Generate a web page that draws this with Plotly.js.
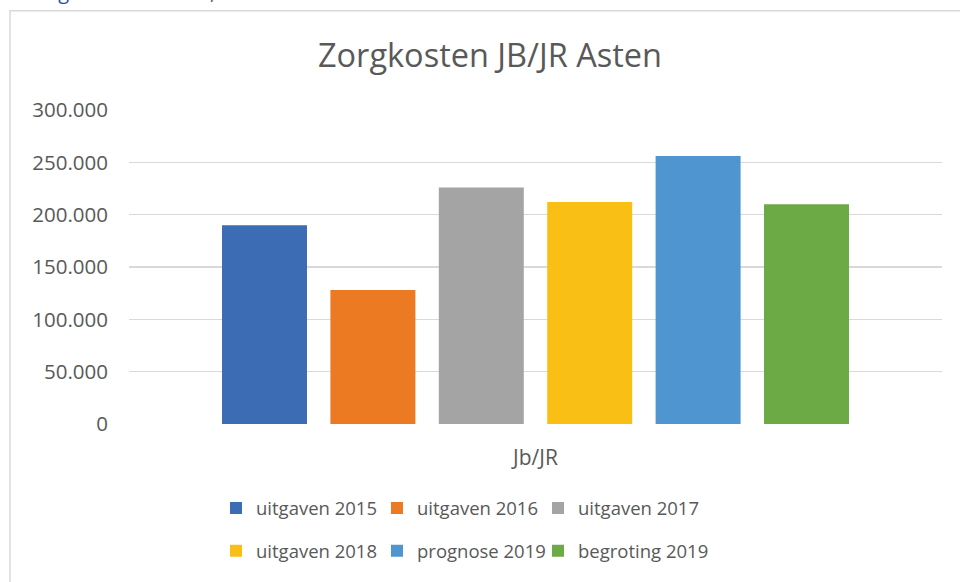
<!DOCTYPE html>
<html>
<head>
<meta charset="utf-8">
<script src="https://cdn.plot.ly/plotly-3.0.1.min.js"></script>
<style>html,body{margin:0;padding:0;background:#fff;}#chart{width:960px;height:582px;}</style>
</head>
<body>
<div id="chart"></div>
<script>
const categories = ['Jb/JR'];
const seriesNames = ['uitgaven 2015', 'uitgaven 2016', 'uitgaven 2017', 'uitgaven 2018', 'prognose 2019', 'begroting 2019'];
const seriesValues = [190000, 128000, 226000, 212000, 256000, 210000];
const seriesColors = ['#3C6CB4', '#EC7A22', '#A3A4A3', '#FABF14', '#4F95D0', '#6BAA45'];
const yTickValues = [0, 50000, 100000, 150000, 200000, 250000, 300000];

const W = 960, H = 582;
const L = 129, R = 18, T = 110, B = 156;
const pw = W - L - R, ph = H - T - B;
const px2x = p => (p - L) / pw;
const py2y = p => (H - B - p) / ph;

const fontFam = '"Open Sans", Lato, sans-serif';
const txtColor = '#595959';

const traces = seriesNames.map((name, i) => ({
  type: 'bar',
  name: name,
  x: categories,
  y: [seriesValues[i]],
  marker: {color: seriesColors[i]},
  legend: i < 3 ? 'legend' : 'legend2',
  legendwidth: (i % 3 === 2) ? 150 : 116,
  hoverinfo: 'name+y'
}));

const legendCommon = {
  orientation: 'h',
  xanchor: 'left',
  yanchor: 'middle',
  entrywidth: 116,
  entrywidthmode: 'pixels',
  font: {family: fontFam, size: 18.5, color: txtColor},
  bgcolor: 'rgba(0,0,0,0)',
  traceorder: 'normal'
};

const layout = {
  width: W, height: H,
  margin: {l: L, r: R, t: T, b: B, pad: 0},
  paper_bgcolor: '#fff',
  plot_bgcolor: '#fff',
  separators: ',.',
  barmode: 'group',
  bargap: 0.2,
  bargroupgap: 0.216,
  title: {
    text: 'Zorgkosten JB/JR Asten',
    font: {family: fontFam, size: 32.5, color: txtColor},
    xref: 'container', x: 490 / W, xanchor: 'center',
    yref: 'container', y: 1 - 56 / H, yanchor: 'middle'
  },
  xaxis: {
    type: 'category',
    showgrid: false,
    zeroline: false,
    showline: false,
    ticks: '',
    tickfont: {family: fontFam, size: 21, color: txtColor},
    ticklabelstandoff: 19
  },
  yaxis: {
    range: [0, 300000],
    tickvals: yTickValues,
    tickformat: ',d',
    showgrid: true,
    gridcolor: '#D9D9D9',
    gridwidth: 1.5,
    zeroline: false,
    showline: false,
    ticks: '',
    tickfont: {family: fontFam, size: 20.5, color: txtColor},
    ticklabelstandoff: 20,
    fixedrange: true
  },
  legend: Object.assign({}, legendCommon, {x: px2x(216), y: py2y(511)}),
  legend2: Object.assign({}, legendCommon, {x: px2x(216), y: py2y(554)}),
  showlegend: true,
  shapes: [{
    type: 'rect', xref: 'paper', yref: 'paper',
    x0: px2x(10), x1: px2x(975), y0: py2y(600), y1: py2y(10),
    line: {color: '#D9D9D9', width: 1.5},
    fillcolor: 'rgba(0,0,0,0)',
    layer: 'below'
  }],
  annotations: [{
    text: 'Figuur 4: Asten 18,',
    xref: 'paper', yref: 'paper',
    x: px2x(41), xanchor: 'left',
    y: py2y(6), yanchor: 'bottom',
    showarrow: false,
    font: {family: fontFam, size: 20, color: '#2F5597'}
  }]
};

Plotly.newPlot('chart', traces, layout, {displayModeBar: false, staticPlot: true});
</script>
</body>
</html>
